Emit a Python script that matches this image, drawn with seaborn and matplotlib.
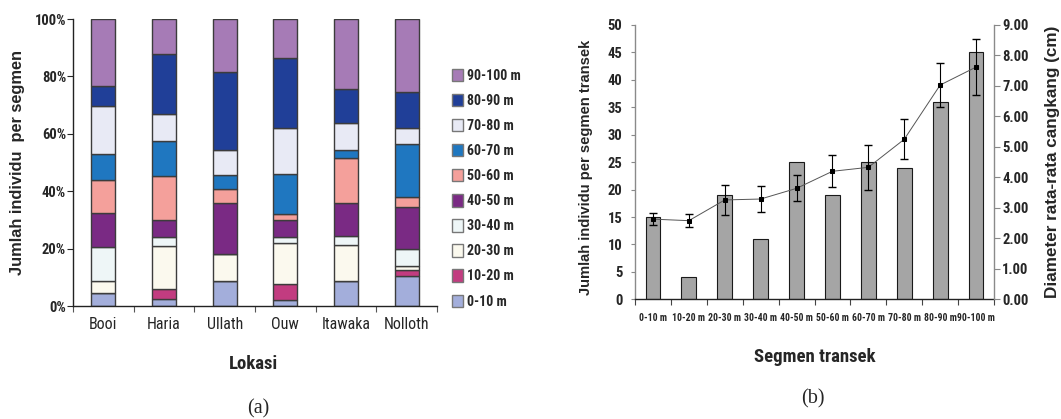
import os
import numpy as np
import matplotlib
matplotlib.use("Agg")
import matplotlib.pyplot as plt
from matplotlib import font_manager
from matplotlib.font_manager import FontProperties
from matplotlib.patches import Patch
from matplotlib.ticker import FixedLocator, FixedFormatter, NullFormatter, FuncFormatter
import seaborn as sns

# ---------------- data: panel (a) ----------------
lokasi = ["Booi", "Haria", "Ullath", "Ouw", "Itawaka", "Nolloth"]
segmen = ["0-10 m", "10-20 m", "20-30 m", "30-40 m", "40-50 m",
          "50-60 m", "60-70 m", "70-80 m", "80-90 m", "90-100 m"]

# percentage of individuals per segment at each location (order follows `lokasi`)
pct_0_10 = [4.4, 2.4, 8.7, 2.1, 8.7, 10.6]
pct_10_20 = [0.0, 3.4, 0.0, 5.7, 0.0, 1.8]
pct_20_30 = [4.3, 15.2, 9.4, 14.0, 12.6, 1.7]
pct_30_40 = [11.7, 3.2, 0.0, 2.4, 3.0, 5.6]
pct_40_50 = [12.1, 5.6, 17.9, 5.6, 11.7, 14.8]
pct_50_60 = [11.4, 15.6, 4.6, 2.4, 15.5, 3.4]
pct_60_70 = [9.2, 12.0, 4.9, 13.7, 3.0, 18.4]
pct_70_80 = [16.6, 9.4, 8.9, 16.1, 9.1, 5.6]
pct_80_90 = [7.1, 21.0, 27.2, 24.5, 11.9, 12.7]
pct_90_100 = [23.2, 12.2, 18.4, 13.5, 24.5, 25.4]

# ---------------- data: panel (b) ----------------
jumlah = [15, 4, 19, 11, 25, 19, 25, 24, 36, 45]
diameter = [2.63, 2.58, 3.26, 3.29, 3.64, 4.20, 4.33, 5.25, 7.03, 7.62]
diameter_sd = [0.20, 0.22, 0.50, 0.42, 0.43, 0.52, 0.73, 0.65, 0.72, 0.91]

persen = [pct_0_10, pct_10_20, pct_20_30, pct_30_40, pct_40_50,
          pct_50_60, pct_60_70, pct_70_80, pct_80_90, pct_90_100]
warna = ["#a3aedb", "#c23c80", "#fbf9ee", "#eef6f7", "#7a2a84",
         "#f4a09b", "#1f77c0", "#e8eaf5", "#203f98", "#a67bb6"]

sns.set_style("ticks")
names = {f.name for f in font_manager.fontManager.ttflist}
SANS = "Liberation Sans" if "Liberation Sans" in names else "DejaVu Sans"
SERIF = "Liberation Serif" if "Liberation Serif" in names else "DejaVu Serif"
plt.rcParams["font.family"] = [SANS, "DejaVu Sans"]


def _weight_num(w):
    if isinstance(w, (int, float)):
        return int(w)
    return {"normal": 400, "regular": 400, "book": 400, "medium": 500,
            "semibold": 600, "demibold": 600, "bold": 700}.get(str(w).lower(), 400)


def narrow_font(bold):
    """Pick an installed narrow/condensed sans face, else plain sans."""
    prefs = ["liberation sans narrow", "arial narrow", "roboto condensed",
             "dejavu sans condensed", "noto sans condensed",
             "open sans condensed", "condensed", "narrow"]
    want = 700 if bold else 400
    best = None
    for f in font_manager.fontManager.ttflist:
        base = os.path.basename(f.fname).lower()
        key = (f.name + " " + base).lower()
        stretch = str(f.stretch).lower()
        is_narrow = ("narrow" in key or "condensed" in key
                     or stretch in ("condensed", "semi-condensed"))
        if not is_narrow:
            continue
        if any(k in key for k in ("mono", "serif", "cjk", "extra", "ultra",
                                  "semi", "italic", "oblique")):
            continue
        if f.style != "normal":
            continue
        wdiff = abs(_weight_num(f.weight) - want)
        rank = next((i for i, p in enumerate(prefs)
                     if p in key or p in (f.name + " " + stretch).lower()),
                    len(prefs))
        score = (rank, wdiff)
        if best is None or score < best[0]:
            best = (score, f.fname)
    if best is not None:
        return FontProperties(fname=best[1]), True
    return FontProperties(family=SANS, weight="bold" if bold else "normal"), False


NARROW_R, HAVE_NARROW = narrow_font(False)
NARROW_B, _ = narrow_font(True)
SHRINK = 1.0 if HAVE_NARROW else 0.82


def fp(base, size):
    p = base.copy()
    p.set_size(size * SHRINK)
    return p


W, H = 1061, 419
fig = plt.figure(figsize=(W / 100, H / 100), dpi=100)
fig.patch.set_facecolor("white")


def box(x0, y0, x1, y1):
    return [x0 / W, 1 - y1 / H, (x1 - x0) / W, (y1 - y0) / H]


# ---------------- panel (a): stacked percentages ----------------
ax1 = fig.add_axes(box(73, 19, 437, 306))
base = np.zeros(len(lokasi))
for seg, vals, col in zip(segmen, persen, warna):
    sns.barplot(x=lokasi, y=vals, bottom=base, color=col, saturation=1,
                width=0.4, edgecolor="#3c3c3c", linewidth=1.0,
                errorbar=None, ax=ax1)
    base = base + np.asarray(vals)

ax1.set_xlim(-0.5, len(lokasi) - 0.5)
ax1.set_ylim(0, 100)
ax1.xaxis.set_major_locator(FixedLocator(np.arange(-0.5, len(lokasi), 1)))
ax1.xaxis.set_major_formatter(NullFormatter())
ax1.xaxis.set_minor_locator(FixedLocator(np.arange(len(lokasi))))
ax1.xaxis.set_minor_formatter(FixedFormatter(lokasi))
ax1.tick_params(axis="x", which="major", length=4, width=0.8, color="#555555")
ax1.tick_params(axis="x", which="minor", length=0, pad=8)
ax1.set_yticks(np.arange(0, 101, 20))
ax1.yaxis.set_major_formatter(FuncFormatter(lambda v, p: f"{int(v)}%"))
ax1.tick_params(axis="y", length=4, width=0.8, pad=1)
for lab in ax1.get_xticklabels(minor=True):
    lab.set_fontproperties(fp(NARROW_R, 11.5))
for lab in ax1.get_yticklabels():
    lab.set_fontproperties(fp(NARROW_B, 10.5))
for s in ("top", "right"):
    ax1.spines[s].set_visible(False)
for s in ("left", "bottom"):
    ax1.spines[s].set_color("#222222")
    ax1.spines[s].set_linewidth(1.0)
ax1.set_xlabel("")
ax1.set_ylabel("")

handles = [Patch(facecolor=c, edgecolor="#777777", linewidth=1.0, label=s)
           for s, c in zip(segmen, warna)][::-1]
fig.legend(handles=handles, loc="center left",
           bbox_to_anchor=(451.5 / W, 1 - 188.5 / H), frameon=False,
           borderaxespad=0, borderpad=0, handlelength=0.8, handleheight=1.0,
           handletextpad=0.3, labelspacing=0.8,
           prop=fp(NARROW_B, 10))

fig.text(18 / W, 1 - 162 / H, "Jumlah individu  per segmen", rotation=90,
         ha="center", va="center", fontsize=11.8, fontweight="bold")
fig.text(254 / W, 1 - 364 / H, "Lokasi", ha="center", va="center",
         fontproperties=fp(NARROW_B, 13.5))
fig.text(258 / W, 1 - 409 / H, "(a)", ha="center", va="center",
         fontsize=14.5, family=SERIF)

# ---------------- panel (b): counts and mean shell diameter ----------------
ax2 = fig.add_axes(box(635, 25, 994, 299.3))
sns.barplot(x=segmen, y=jumlah, color="#a5a5a5", saturation=1, width=0.41,
            edgecolor="#1a1a1a", linewidth=0.8, errorbar=None, ax=ax2)
ax2.set_ylim(0, 50)
ax2.set_yticks(np.arange(0, 51, 5))
ax2.set_xlim(-0.5, len(segmen) - 0.5)
ax2.xaxis.set_major_locator(FixedLocator(np.arange(-0.5, len(segmen), 1)))
ax2.xaxis.set_major_formatter(NullFormatter())
ax2.xaxis.set_minor_locator(FixedLocator(np.arange(len(segmen))))
ax2.xaxis.set_minor_formatter(FixedFormatter(segmen))
ax2.tick_params(axis="x", which="major", length=4, width=0.8, color="#444444")
ax2.tick_params(axis="x", which="minor", length=0, pad=10)
ax2.tick_params(axis="y", length=3, width=0.8, color="#888888", pad=6)
xsize = 7.0 if HAVE_NARROW else 6.3 / SHRINK
for lab in ax2.get_xticklabels(minor=True):
    lab.set_fontproperties(fp(NARROW_B, xsize))
for lab in ax2.get_yticklabels():
    lab.set_fontproperties(fp(NARROW_B, 10.5))
ax2.spines["top"].set_visible(False)
ax2.spines["right"].set_visible(False)
ax2.spines["left"].set_color("#8a8a8a")
ax2.spines["left"].set_linewidth(1.0)
ax2.spines["bottom"].set_color("#222222")
ax2.spines["bottom"].set_linewidth(1.0)
ax2.set_xlabel("")
ax2.set_ylabel("")

ax3 = ax2.twinx()
pos = np.arange(len(segmen))
sns.lineplot(x=pos, y=diameter, ax=ax3, color="#555555", linewidth=0.7,
             marker="s", markersize=3, markerfacecolor="black",
             markeredgecolor="black", errorbar=None)
ax3.errorbar(pos, diameter, yerr=diameter_sd, fmt="none", ecolor="black",
             elinewidth=0.8, capsize=3, capthick=1.0)
ax3.set_xlim(-0.5, len(segmen) - 0.5)
ax3.set_ylim(0, 9)
ax3.set_yticks(np.arange(0, 9.01, 1))
ax3.yaxis.set_major_formatter(FuncFormatter(lambda v, p: f"{v:.2f}"))
ax3.tick_params(axis="y", length=4, width=0.8, color="#888888", pad=2)
for lab in ax3.get_yticklabels():
    lab.set_fontproperties(fp(NARROW_B, 10.5))
for s in ("top", "left", "bottom"):
    ax3.spines[s].set_visible(False)
ax3.spines["right"].set_color("#8a8a8a")
ax3.spines["right"].set_linewidth(1.0)
ax3.set_xlabel("")
ax3.set_ylabel("")

fig.text(586 / W, 1 - 167 / H, "Jumlah individu per segmen transek",
         rotation=90, ha="center", va="center", fontsize=10.6,
         fontweight="bold")
fig.text(1052 / W, 1 - 162 / H, "Diameter rata-rata cangkang (cm)",
         rotation=90, ha="center", va="center", fontsize=12.3,
         fontweight="bold")
fig.text(815 / W, 1 - 357 / H, "Segmen transek", ha="center", va="center",
         fontproperties=fp(NARROW_B, 13.5))
fig.text(813 / W, 1 - 399 / H, "(b)", ha="center", va="center",
         fontsize=14.5, family=SERIF)

fig.savefig("out.png", dpi=100, facecolor="white")
